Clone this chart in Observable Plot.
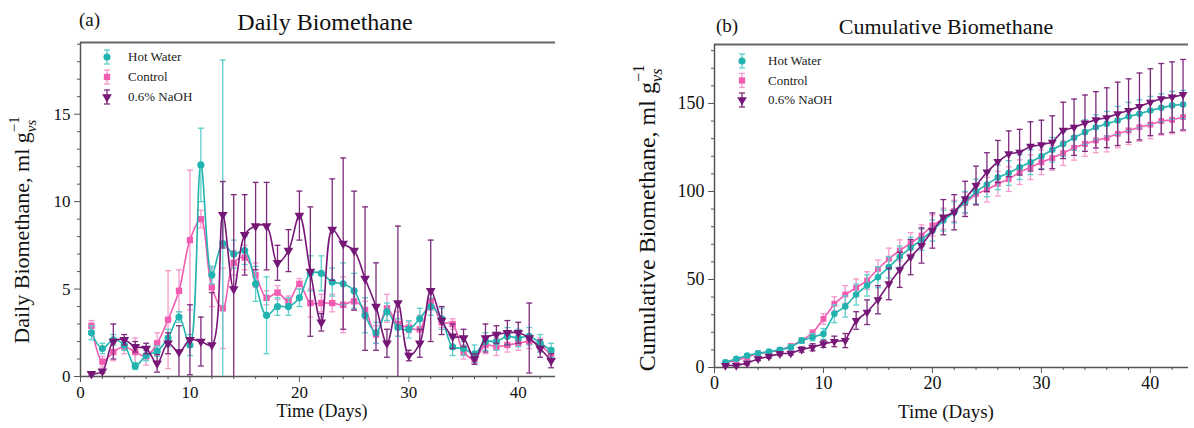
<!DOCTYPE html>
<html><head><meta charset="utf-8">
<script src="https://cdn.jsdelivr.net/npm/d3@7"></script>
<script src="https://cdn.jsdelivr.net/npm/@observablehq/plot@0.6"></script>
<style>
body{margin:0;background:#fff;}
#wrap{position:relative;width:1194px;height:428px;overflow:hidden;font-family:"Liberation Serif","Times New Roman",serif;color:#111;}
.abs{position:absolute;white-space:nowrap;line-height:1.15;}
svg text, svg tspan{font-family:"Liberation Serif","Times New Roman",serif !important;}
</style></head><body><div id="wrap"></div>
<script>
// ---- data ----
const days = [1,2,3,4,5,6,7,8,9,10,11,12,13,14,15,16,17,18,19,20,21,22,23,24,25,26,27,28,29,30,31,32,33,34,35,36,37,38,39,40,41,42,43];
const seriesNames = ["Hot Water", "Control", "0.6% NaOH"];

const hotDaily = [2.5,1.6,2.1,1.8,0.6,1.2,1.45,2.2,3.4,1.8,12.1,5.8,7.6,7.0,7.2,5.3,3.5,4.0,4.0,4.5,5.9,5.9,5.4,5.3,4.9,3.5,2.5,3.7,2.8,2.7,3.3,4.0,3.3,1.7,1.6,1.3,2.0,2.0,2.3,2.2,2.3,1.9,1.5];
const hotDailyErr = [0.4,0.3,0.3,0.3,0.2,0.3,0.3,0.5,0.3,0.6,2.1,0.5,10.5,0.8,0.8,1.0,2.2,0.5,0.5,0.5,1.0,1.0,0.8,1.2,1.0,1.0,0.6,0.5,0.5,0.5,0.6,0.5,0.6,0.5,0.4,0.5,0.5,0.5,0.5,0.5,0.5,0.5,0.4];
const controlDaily = [2.9,0.85,1.4,1.7,1.4,1.15,1.9,3.25,4.9,7.8,9.0,5.1,3.9,6.5,6.8,5.8,4.5,4.8,4.3,5.3,4.2,4.2,4.2,4.1,4.3,3.8,2.4,3.9,3.0,2.8,2.7,4.3,3.1,3.0,1.4,1.0,1.8,1.7,1.8,1.9,2.0,1.8,1.2];
const controlDailyErr = [0.3,0.3,0.5,0.4,0.8,0.5,0.6,2.8,1.2,4.0,0.5,1.1,2.3,0.7,0.7,0.7,0.4,0.4,0.3,0.3,0.8,0.5,0.5,1.6,0.5,0.5,0.5,0.8,0.7,0.3,0.8,0.5,0.3,0.3,0.4,0.3,0.5,0.5,0.4,0.4,0.4,0.4,0.3];
const naohDaily = [0.15,0.3,2.0,2.1,1.7,1.6,0.75,1.9,1.4,2.1,2.0,1.8,9.25,5.0,8.1,8.6,8.6,6.5,7.2,9.2,6.0,3.1,8.4,7.6,7.2,5.6,4.0,1.9,4.2,1.2,1.9,4.9,3.2,2.3,2.2,1.0,2.2,2.4,2.5,2.5,2.2,1.6,0.9];
const naohDailyErr = [0.1,0.1,1.0,0.3,0.3,0.3,0.5,0.6,1.5,2.0,1.4,3.0,1.9,5.4,2.3,2.5,2.5,1.0,1.2,1.4,3.7,0.5,2.9,4.9,3.4,4.1,2.5,0.8,4.4,0.3,0.8,2.9,0.8,0.7,0.5,0.3,0.8,0.5,0.7,0.6,2.0,0.5,0.4];

const hotCum = [3.0,4.9,6.8,8.1,9.0,10.0,11.5,15.3,17.2,19.1,30.5,34.7,41.5,46.6,51.3,57,63,68,72.6,77.8,83.5,88.2,94,100,104,108,110.5,113.8,116.6,120,123.7,127,130.5,133.7,136.5,138.5,140.3,142.6,144.1,146,147.5,148.9,149.4];
const hotCumErr = [1,1,1,1,1,1,1.5,1.5,2,3,5,6,6,6,6,6,6,6,6,6,6,6,6,7,7,7,7,7,7,7,7,7,7,7,7,7,8,8,8,8,8,8,8];
const controlCum = [2.7,4.0,5.9,8.0,8.7,10.0,12.1,15.3,19.5,27.6,36.2,41.5,45.3,49.4,56,61.8,66.5,70.6,75,80.7,84.5,89,93.4,98.6,101,104.4,107,111,113.8,116.6,119,121.8,124.8,127,129,130.5,132.8,134.7,136.5,138,140,140.7,142.2];
const controlCumErr = [1,1,1,1,1,1,1.5,1.5,2,3,4,5,5,5,5,6,6,6,6,6,6,6,6,6,7,7,7,7,7,7,7,7,7,7,7,8,8,8,8,8,8,8,8];
const naohCum = [1.1,1.1,2.5,4.9,6.3,7.8,8.1,10.2,11.5,13.4,14.8,15.3,26.7,31.4,38.5,47.5,55.5,62.7,69.3,77.8,85.4,88.2,95.8,103.4,111,117,121.4,122.3,125.6,126.5,128,134.7,136.5,138.8,140.7,141.9,144.1,146,148.3,150.7,152.7,153.6,155];
const naohCumErr = [0.5,0.5,1,1,1,1,1,1.5,2,2,3,4,5,7,8,9,10,10,10,10,10,10,10,11,11,12,13,13,14,14,15,16,16,16,16,17,18,18,19,19,20,20,20];

const xMajor = [0,10,20,30,40];
const xMinor = [2,4,6,8,12,14,16,18,22,24,26,28,32,34,36,38,42];
const dailyMajor = [0,5,10,15];
const dailyMinor = [1,2,3,4,6,7,8,9,11,12,13,14,16,17,18,19];
const cumMajor = [0,50,100,150];
const cumMinor = [10,20,30,40,60,70,80,90,110,120,130,140,160,170,180];

// ---- styles ----
const FONT = '"Liberation Serif","Times New Roman",serif';
const styles = {
  "Hot Water": {color:"#22b3b0", err:"#5ccfcb", symbol:"circle", rotate:0},
  "Control":   {color:"#f25cb1", err:"#f59acd", symbol:"square", rotate:0},
  "0.6% NaOH": {color:"#761676", err:"#7d2a7d", symbol:"triangle", rotate:180}
};
const drawOrder = ["Control","Hot Water","0.6% NaOH"];
const axisColor = "#555";

function tidy(vals, errs, s){ return days.map((d,i)=>({day:d, v:vals[i], e:errs[i], s})); }

function panel(o){
  const sets = {"Hot Water": tidy(o.hot[0], o.hot[1], "Hot Water"),
                "Control": tidy(o.ctrl[0], o.ctrl[1], "Control"),
                "0.6% NaOH": tidy(o.naoh[0], o.naoh[1], "0.6% NaOH")};
  const marks = [
    Plot.ruleY([o.yMax], {stroke:"#666", strokeWidth:2}),
    Plot.ruleX([0], {stroke:axisColor, strokeWidth:1.5}),
    Plot.ruleY([0], {stroke:axisColor, strokeWidth:1.5}),
    Plot.axisX({ticks:xMajor, tickSize:6, tickPadding:3, label:null, stroke:axisColor, fill:"#111"}),
    Plot.axisX({ticks:xMinor, tickSize:3, tickFormat:()=>"", label:null, stroke:axisColor}),
    Plot.axisY({ticks:o.yMajor, tickSize:6, tickPadding:4, label:null, stroke:axisColor, fill:"#111"}),
    Plot.axisY({ticks:o.yMinor, tickSize:3, tickFormat:()=>"", label:null, stroke:axisColor})
  ];
  const cw = 0.27;
  for (const k of drawOrder){
    const st = styles[k], data = sets[k];
    marks.push(
      Plot.ruleX(data, {x:"day", y1:d=>Math.max(0,d.v-d.e), y2:d=>d.v+d.e, stroke:st.err, strokeWidth:1.3}),
      Plot.link(data, {x1:d=>d.day-cw, x2:d=>d.day+cw, y1:d=>d.v+d.e, y2:d=>d.v+d.e, stroke:st.err, strokeWidth:1.3}),
      Plot.link(data.filter(d=>d.v-d.e>0), {x1:d=>d.day-cw, x2:d=>d.day+cw, y1:d=>d.v-d.e, y2:d=>d.v-d.e, stroke:st.err, strokeWidth:1.3}),
      Plot.line(data, {x:"day", y:"v", stroke:st.color, strokeWidth:1.6, curve:o.curve}),
      Plot.dot(data, {x:"day", y:"v", symbol:st.symbol, rotate:st.rotate, fill:st.color, r:o.r})
    );
  }
  const svg = Plot.plot({
    width:o.width, height:o.height,
    marginLeft:o.ml, marginRight:o.mr, marginTop:o.mt, marginBottom:o.mb,
    x:{domain:[0,o.xMax]}, y:{domain:[0,o.yMax]},
    style:{fontFamily:FONT, fontSize:o.tickFont, background:"transparent", overflow:"visible"},
    marks
  });
  svg.setAttribute("font-family", FONT);
  const s = d3.select(svg);
  // y label with sub/superscript
  const t = s.append("text")
    .attr("transform", `translate(${o.ylabX},${o.ylabY}) rotate(-90)`)
    .attr("text-anchor","middle")
    .style("font-size", o.ylabFont + "px").attr("fill","#111");
  t.append("tspan").text(o.ylab + ", ml g");
  t.append("tspan").attr("dy",-o.ylabFont*0.45).style("font-size", (o.ylabFont*0.68)+"px").text("\u22121");
  t.append("tspan").attr("dx",-o.ylabFont*0.72).attr("dy",o.ylabFont*0.75).style("font-size",(o.ylabFont*0.68)+"px").style("font-style","italic").text("vs");
  // legend
  const lg = s.append("g").attr("transform", `translate(${o.legX},${o.legY})`);
  seriesNames.forEach((k,i)=>{
    const st = styles[k];
    const g = lg.append("g").attr("transform", `translate(0,${i*o.legDy})`);
    g.append("line").attr("y1",-7).attr("y2",7).attr("stroke",st.err).attr("stroke-width",1.3);
    g.append("line").attr("x1",-3).attr("x2",3).attr("y1",-7).attr("y2",-7).attr("stroke",st.err).attr("stroke-width",1.3);
    g.append("line").attr("x1",-3).attr("x2",3).attr("y1",7).attr("y2",7).attr("stroke",st.err).attr("stroke-width",1.3);
    const sym = st.symbol==="circle"?d3.symbolCircle:st.symbol==="square"?d3.symbolSquare:d3.symbolTriangle;
    g.append("path").attr("d", d3.symbol(sym, 40)()).attr("fill",st.color).attr("transform",`rotate(${st.rotate})`);
    g.append("text").attr("x",o.legTx).attr("y",4).attr("text-anchor","start")
      .style("font-size","13px").attr("fill","#222").text(k);
  });
  return svg;
}

const wrap = document.getElementById("wrap");
function place(el, left, top){ el.style.position="absolute"; el.style.left=left+"px"; el.style.top=top+"px"; wrap.appendChild(el); }

const left = panel({
  hot:[hotDaily,hotDailyErr], ctrl:[controlDaily,controlDailyErr], naoh:[naohDaily,naohDailyErr],
  yMax:19.1, yMajor:dailyMajor, yMinor:dailyMinor, xMax:43.4, curve:"catmull-rom", r:3.6,
  width:560, height:420, ml:80, mr:5, mt:42, mb:44, tickFont:"17px",
  ylab:"Daily Biomethane", ylabX:29, ylabY:230, ylabFont:22,
  legX:107, legY:57, legDy:20, legTx:21
});
place(left, 0, 0);

const right = panel({
  hot:[hotCum,hotCumErr], ctrl:[controlCum,controlCumErr], naoh:[naohCum,naohCumErr],
  yMax:183.5, yMajor:cumMajor, yMinor:cumMinor, xMax:43.5, curve:"linear", r:3.3,
  width:574, height:420, ml:94, mr:6, mt:44, mb:53, tickFont:"18px",
  ylab:"Cumulative Biomethane", ylabX:35, ylabY:218, ylabFont:24,
  legX:122, legY:61, legDy:19.5, legTx:26
});
place(right, 620, 0);

function label(text, css){ const d=document.createElement("div"); d.className="abs"; d.textContent=text; Object.assign(d.style, css); wrap.appendChild(d); }
label("(a)", {left:"79px", top:"9px", fontSize:"19px"});
label("Daily Biomethane", {left:"325px", top:"9px", fontSize:"24px", transform:"translateX(-50%)"});
label("(b)", {left:"716px", top:"15px", fontSize:"19px"});
label("Cumulative Biomethane", {left:"946px", top:"14px", fontSize:"22px", transform:"translateX(-50%)"});
label("Time (Days)", {left:"322px", top:"401px", fontSize:"18px", transform:"translateX(-50%)"});
label("Time (Days)", {left:"946px", top:"401px", fontSize:"19px", transform:"translateX(-50%)"});
</script></body></html>
